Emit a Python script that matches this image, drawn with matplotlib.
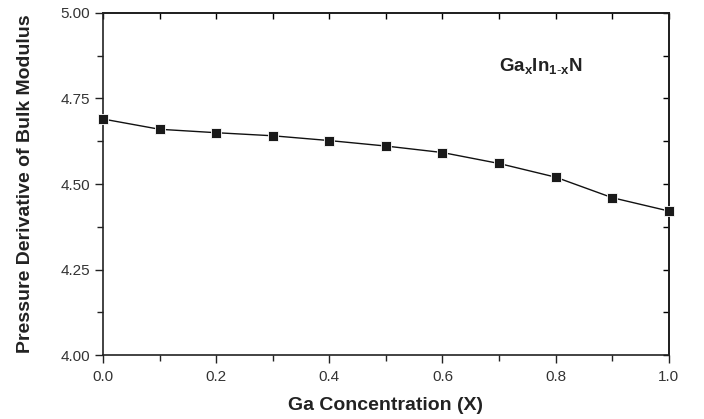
import matplotlib
matplotlib.use('Agg')
import matplotlib.pyplot as plt
from matplotlib.ticker import MultipleLocator, FormatStrFormatter

plt.rcParams['font.family'] = ['Liberation Sans', 'DejaVu Sans']
plt.rcParams['mathtext.fontset'] = 'custom'
plt.rcParams['mathtext.rm'] = 'Liberation Sans'
plt.rcParams['mathtext.bf'] = 'Liberation Sans:bold'

# Ga concentration vs pressure derivative of bulk modulus
ga_conc = [0.0, 0.1, 0.2, 0.3, 0.4, 0.5, 0.6, 0.7, 0.8, 0.9, 1.0]
b_prime = [4.69, 4.66, 4.65, 4.641, 4.627, 4.611, 4.592, 4.56, 4.52, 4.46, 4.421]

fig = plt.figure(figsize=(7.04, 4.19), dpi=100)
ax = fig.add_axes([0.1463, 0.1527, 0.8037, 0.8163])

ax.plot(ga_conc, b_prime, color='#111111', lw=1.0, marker='s', ms=7,
        mfc='#1a1a1a', mec='white', mew=0.6, clip_on=False, zorder=5)

ax.set_xlim(0.0, 1.0)
ax.set_ylim(4.0, 5.0)
ax.xaxis.set_major_locator(MultipleLocator(0.2))
ax.xaxis.set_minor_locator(MultipleLocator(0.1))
ax.yaxis.set_major_locator(MultipleLocator(0.25))
ax.yaxis.set_minor_locator(MultipleLocator(0.125))
ax.xaxis.set_major_formatter(FormatStrFormatter('%.1f'))
ax.yaxis.set_major_formatter(FormatStrFormatter('%.2f'))

for s in ax.spines.values():
    s.set_linewidth(1.2)
    s.set_color('#222222')

ax.tick_params(which='both', direction='out', width=1.0, color='#222222',
               labelsize=11, labelcolor='#333333', top=False, right=False)
ax.tick_params(which='major', length=6)
ax.tick_params(which='minor', length=4)
ax.tick_params(axis='x', pad=5)

# inward ticks on top and right
axt = ax.secondary_xaxis('top')
axt.xaxis.set_major_locator(MultipleLocator(0.1))
axt.tick_params(direction='in', length=4, width=1.0, labeltop=False)
axt.spines['top'].set_linewidth(1.2)
axr = ax.secondary_yaxis('right')
axr.yaxis.set_major_locator(MultipleLocator(0.125))
axr.tick_params(direction='in', length=4, width=1.0, labelright=False)
axr.spines['right'].set_linewidth(1.2)

ax.set_xlabel('Ga Concentration (X)', fontsize=14, fontweight='bold',
              labelpad=9, color='#222222')
ax.set_ylabel('Pressure Derivative of Bulk Modulus', fontsize=14,
              fontweight='bold', labelpad=19, color='#222222')

ax.text(0.773, 0.845, r'$\mathbf{Ga_x In_{1\text{-}x} N}$', transform=ax.transAxes,
        fontsize=13.5, ha='center', va='center', color='#222222')

fig.savefig('out.png', dpi=100)
